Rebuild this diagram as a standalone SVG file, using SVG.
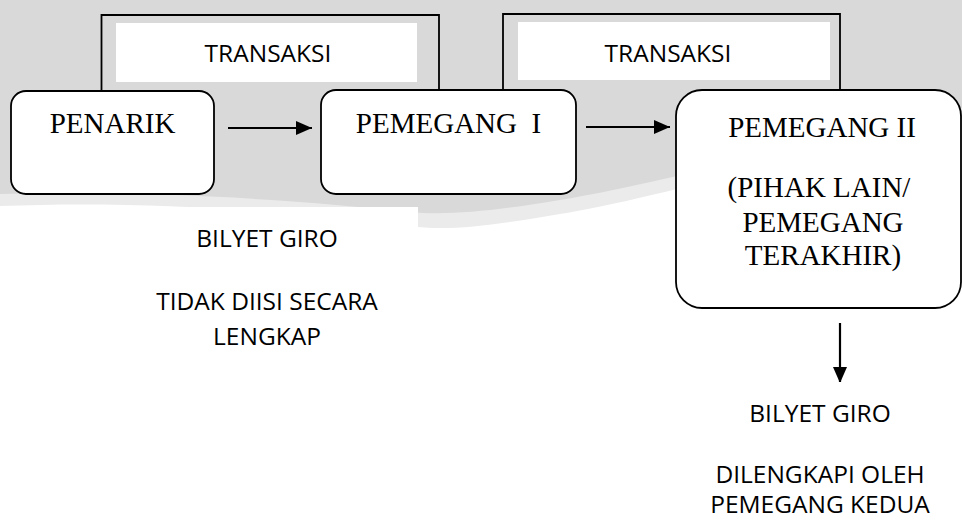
<svg xmlns="http://www.w3.org/2000/svg" width="962" height="522" viewBox="0 0 962 522">
<style>
.box{fill:#fff;stroke:#000;stroke-width:1.8}
.lbl{fill:#fff;stroke:none}
.serif{font-family:"Liberation Serif","Times New Roman",serif;font-size:29px;fill:#000;text-anchor:middle}
.sans{font-family:"Open Sans","Noto Sans",sans-serif;font-size:24.5px;fill:#000;text-anchor:middle}
.line{fill:none;stroke:#000;stroke-width:1.8}
.arrow{fill:none;stroke:#000;stroke-width:2.2}
</style>
<defs>
<marker id="arr" markerUnits="userSpaceOnUse" markerWidth="16" markerHeight="14" refX="16" refY="7" orient="auto">
<path d="M0,0 L16,7 L0,14 z" fill="#000"/>
</marker>
</defs>
<g id="background">
<rect x="0" y="0" width="962" height="522" fill="#fff"/>
<path d="M0,0 H962 V118 C820,150 650,200 560,214 C500,224 450,232 410,226 C300,212 150,200 0,206 Z" fill="#ebebeb"/>
<path d="M0,0 H962 V108 C820,140 650,186 560,200 C500,210 450,216 410,212 C300,200 150,190 0,194 Z" fill="#d9d9d9"/>
</g>
<g id="connectors">
<path class="line" d="M101.5,91 V15 H439 V90"/>
<path class="line" d="M503,90 V14 H840 V90"/>
<line class="arrow" x1="228" y1="128" x2="312" y2="128" marker-end="url(#arr)"/>
<line class="arrow" x1="586" y1="127" x2="670" y2="127" marker-end="url(#arr)"/>
<line class="arrow" x1="840" y1="323" x2="840" y2="383" marker-end="url(#arr)"/>
</g>
<g id="label-transaksi-1">
<rect class="lbl" x="116" y="23" width="301" height="59"/>
<text class="sans" x="268" y="62">TRANSAKSI</text>
</g>
<g id="label-transaksi-2">
<rect class="lbl" x="518" y="22" width="312" height="58"/>
<text class="sans" x="668" y="62">TRANSAKSI</text>
</g>
<g id="node-penarik">
<rect class="box" x="11" y="91" width="203" height="103" rx="15" ry="15"/>
<text class="serif" x="112.5" y="133">PENARIK</text>
</g>
<g id="node-pemegang-1">
<rect class="box" x="321" y="90" width="255" height="104" rx="15" ry="15"/>
<text class="serif" x="448.5" y="133" xml:space="preserve">PEMEGANG  I</text>
</g>
<g id="node-pemegang-2">
<rect class="box" x="676" y="90" width="285" height="218" rx="26" ry="26"/>
<text class="serif" x="822" y="137">PEMEGANG II</text>
<text class="serif" x="819" y="197">(PIHAK LAIN/</text>
<text class="serif" x="823" y="232">PEMEGANG</text>
<text class="serif" x="823" y="265">TERAKHIR)</text>
</g>
<g id="label-bilyet-1">
<rect class="lbl" x="116" y="207" width="302" height="186"/>
<text class="sans" x="267" y="247">BILYET GIRO</text>
<text class="sans" x="267" y="310">TIDAK DIISI SECARA</text>
<text class="sans" x="267" y="345">LENGKAP</text>
</g>
<g id="label-bilyet-2">
<rect class="lbl" x="672" y="382" width="290" height="140"/>
<text class="sans" x="820" y="422">BILYET GIRO</text>
<text class="sans" x="820" y="483">DILENGKAPI OLEH</text>
<text class="sans" x="820" y="513">PEMEGANG KEDUA</text>
</g>
</svg>
